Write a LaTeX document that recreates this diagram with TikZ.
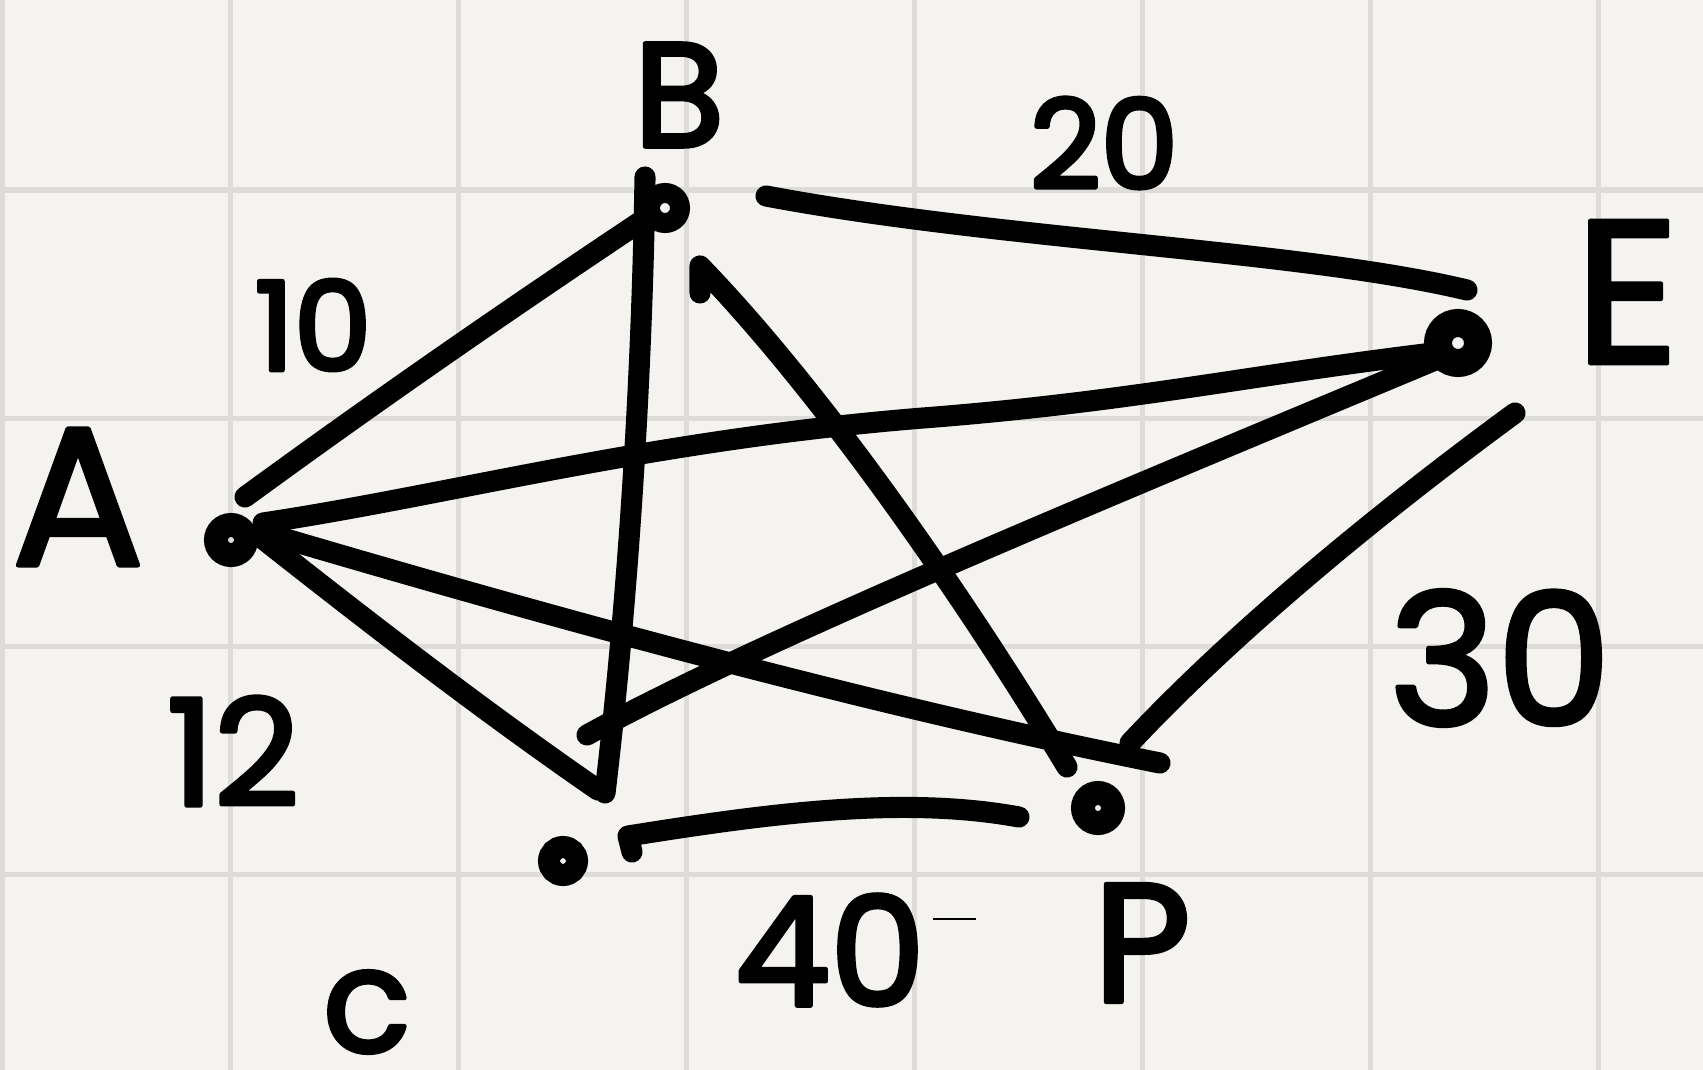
\documentclass[tikz,border=0pt]{standalone}
\usepackage{fontspec}
\setmainfont{Poppins}
\usetikzlibrary{calc}
\definecolor{paper}{HTML}{F4F3EF}
\definecolor{gridc}{HTML}{DDDCD8}
\newcommand\fsz[1]{\fontsize{#1}{#1}\selectfont}
\newcommand\heavy[1]{\special{pdf:code q 2 Tr 1.3 w 1 j}#1\special{pdf:code Q}}
\begin{document}
\begin{tikzpicture}[x=0.01cm,y=-0.01cm,
  conn/.style={draw=black, line width=6pt, line cap=round, line join=round},
  dot/.style={circle, draw=black, line width=0.24cm, inner sep=0pt},
  lbl/.style={inner sep=0pt, font={\fsz{#1}}}]
\fill[paper] (0,0) rectangle (1703,1070);
\useasboundingbox (0,0) rectangle (1703,1070);
\foreach \x in {2,230,...,1599} \draw[gridc, line width=0.05cm] (\x,0) -- (\x,1070);
\foreach \y in {190,418,646,874} \draw[gridc, line width=0.05cm] (0,\y) -- (1703,\y);

% vertices
\node[dot, minimum size=0.30cm] (A) at (231,540) {};
\node[dot, minimum size=0.30cm, line width=0.2cm] (B) at (665,208) {};
\node[dot, minimum size=0.40cm, line width=0.28cm] (E) at (1458,343) {};
\node[dot, minimum size=0.28cm, line width=0.22cm] (C) at (563,861) {};
\node[dot, minimum size=0.30cm] (P) at (1098,808) {};

% vertex labels
\node[lbl=56] (lA) at (78,497) {\heavy{A}};
\node[lbl=42] (lB) at (679,95) {\heavy{B}};
\node[lbl=58] (lE) at (1627,292) {\heavy{E}};
\node[lbl=41] (lC) at (367,1012) {\heavy{c}};
\node[lbl=48] (lP) at (1142,943) {\heavy{P}};

% weights
\node[lbl=35] (w1) at (313,325) {\heavy{10}};
\node[lbl=35] (w2) at (1104,143) {\heavy{20}};
\node[lbl=52] (w3) at (1500,658) {\heavy{30}};
\node[lbl=42] (w4) at (233,751) {\heavy{12}};
\node[lbl=43] (w5) at (830,950) {\heavy{40}};
\draw[line width=0.025cm] ($(w5.east)+(7,-31)$) -- ($(w5.east)+(50,-31)$);

% connectors
\path[conn] ($(A)+(14,-43)$) .. controls (375,402) and (508,310) .. ($(B)+(-25,14)$);
\path[conn] ($(B)+(-20,-31)$) .. controls (642,380) and (628,600) .. ($(C)+(42,-68)$);
\path[conn] ($(A)+(27,-5)$) .. controls (372,625) and (485,712) .. ($(C)+(35,-71)$);
\coordinate (aemid) at (923,418);
\path[conn] ($(A)+(32,-17)$) .. controls (450,495) and (650,440) .. (aemid)
  .. controls (1130,402) and (1250,375) .. ($(E)+(-25,10)$);
\path[conn] ($(C)+(24,-126)$) .. controls (760,640) and (1100,500) .. ($(E)+(-18,15)$);
\path[conn] ($(A)+(31,-8)$) .. controls (560,620) and (870,705) .. ($(P)+(62,-45)$);
\path[conn] ($(B)+(35,85)$) -- ($(B)+(35,58)$) .. controls (820,390) and (960,590) .. ($(P)+(-31,-41)$);
\path[conn] ($(B)+(101,-12)$) .. controls (1000,240) and (1300,250) .. ($(E)+(9,-53)$);
\path[conn] ($(E)+(57,70)$) .. controls (1410,490) and (1250,615) .. ($(P)+(32,-65)$);
\path[conn] ($(C)+(69,-9)$) -- ($(C)+(65,-25)$) .. controls (760,815) and (900,795) .. ($(P)+(-79,9)$);
\end{tikzpicture}
\end{document}
